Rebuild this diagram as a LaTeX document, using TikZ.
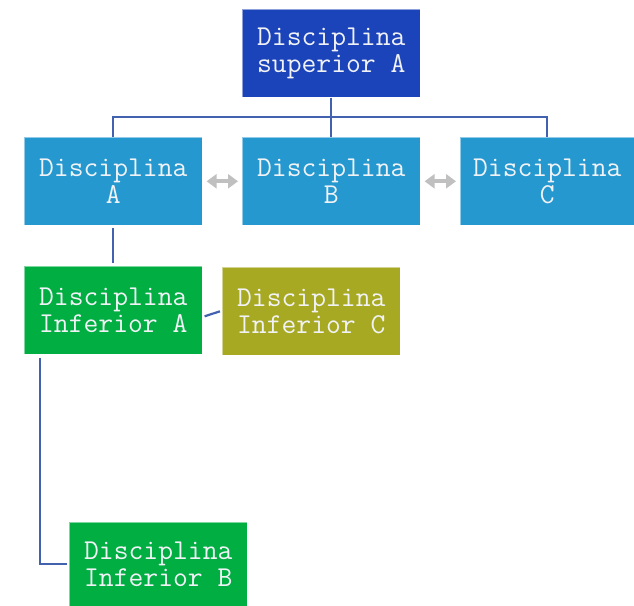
\documentclass[tikz,border=0pt]{standalone}
\usepackage{fontspec}
\usetikzlibrary{arrows.meta}
\definecolor{supblue}{RGB}{28,68,186}
\definecolor{midblue}{RGB}{36,152,207}
\definecolor{infgreen}{RGB}{0,174,66}
\definecolor{olive}{RGB}{168,169,35}
\definecolor{connblue}{RGB}{66,98,176}
\definecolor{arrgrey}{RGB}{192,192,192}
\definecolor{txt}{RGB}{240,242,245}
\tikzset{
  box/.style={anchor=north west, minimum width=178pt, minimum height=88pt, inner sep=0pt,
    align=center, text=txt, font=\ttfamily\fontsize{28.8}{27.5}\selectfont, draw=white, draw opacity=0.5, line width=0.6pt},
  conn/.style={draw=connblue, line width=2.2pt},
  dbl/.style={draw=arrgrey, line width=4pt, {Triangle[length=10pt,width=14pt]}-{Triangle[length=10pt,width=14pt]}}
}
\begin{document}
\begin{tikzpicture}[x=1pt,y=-1pt]
\useasboundingbox (0,0) rectangle (634,605);
\node[box, fill=supblue] (sup) at (242,9) {Disciplina\\superior A};
\node[box, fill=midblue] (a) at (24,137) {Disciplina\\A};
\node[box, fill=midblue] (b) at (242,137) {Disciplina\\B};
\node[box, fill=midblue, minimum width=174pt] (c) at (460,137) {Disciplina\\C};
\node[box, fill=infgreen] (infa) at (24,266) {Disciplina\\Inferior A};
\node[box, fill=olive] (infc) at (222,267) {Disciplina\\Inferior C};
\node[box, fill=infgreen, minimum height=84pt] (infb) at (69,522) {Disciplina\\Inferior B};
\coordinate (j) at (331,117);
\draw[conn] (sup.south) -- (b.north);
\draw[conn] (a.north) -- (a.north |- j) -- (c.north |- j) -- (c.north);
\draw[conn, shorten <=2pt, shorten >=3pt] (a.south) -- (infa.north);
\draw[conn] ([shift={(2,6)}]infa.east) -- ([shift={(-2,0)}]infc.west);
\draw[conn, shorten >=2pt] ([shift={(16,3)}]infa.south west) |- (infb.west);
\draw[dbl] ([xshift=4]a.east) -- ([xshift=-4]b.west);
\draw[dbl] ([xshift=4]b.east) -- ([xshift=-4]c.west);
\end{tikzpicture}
\end{document}
